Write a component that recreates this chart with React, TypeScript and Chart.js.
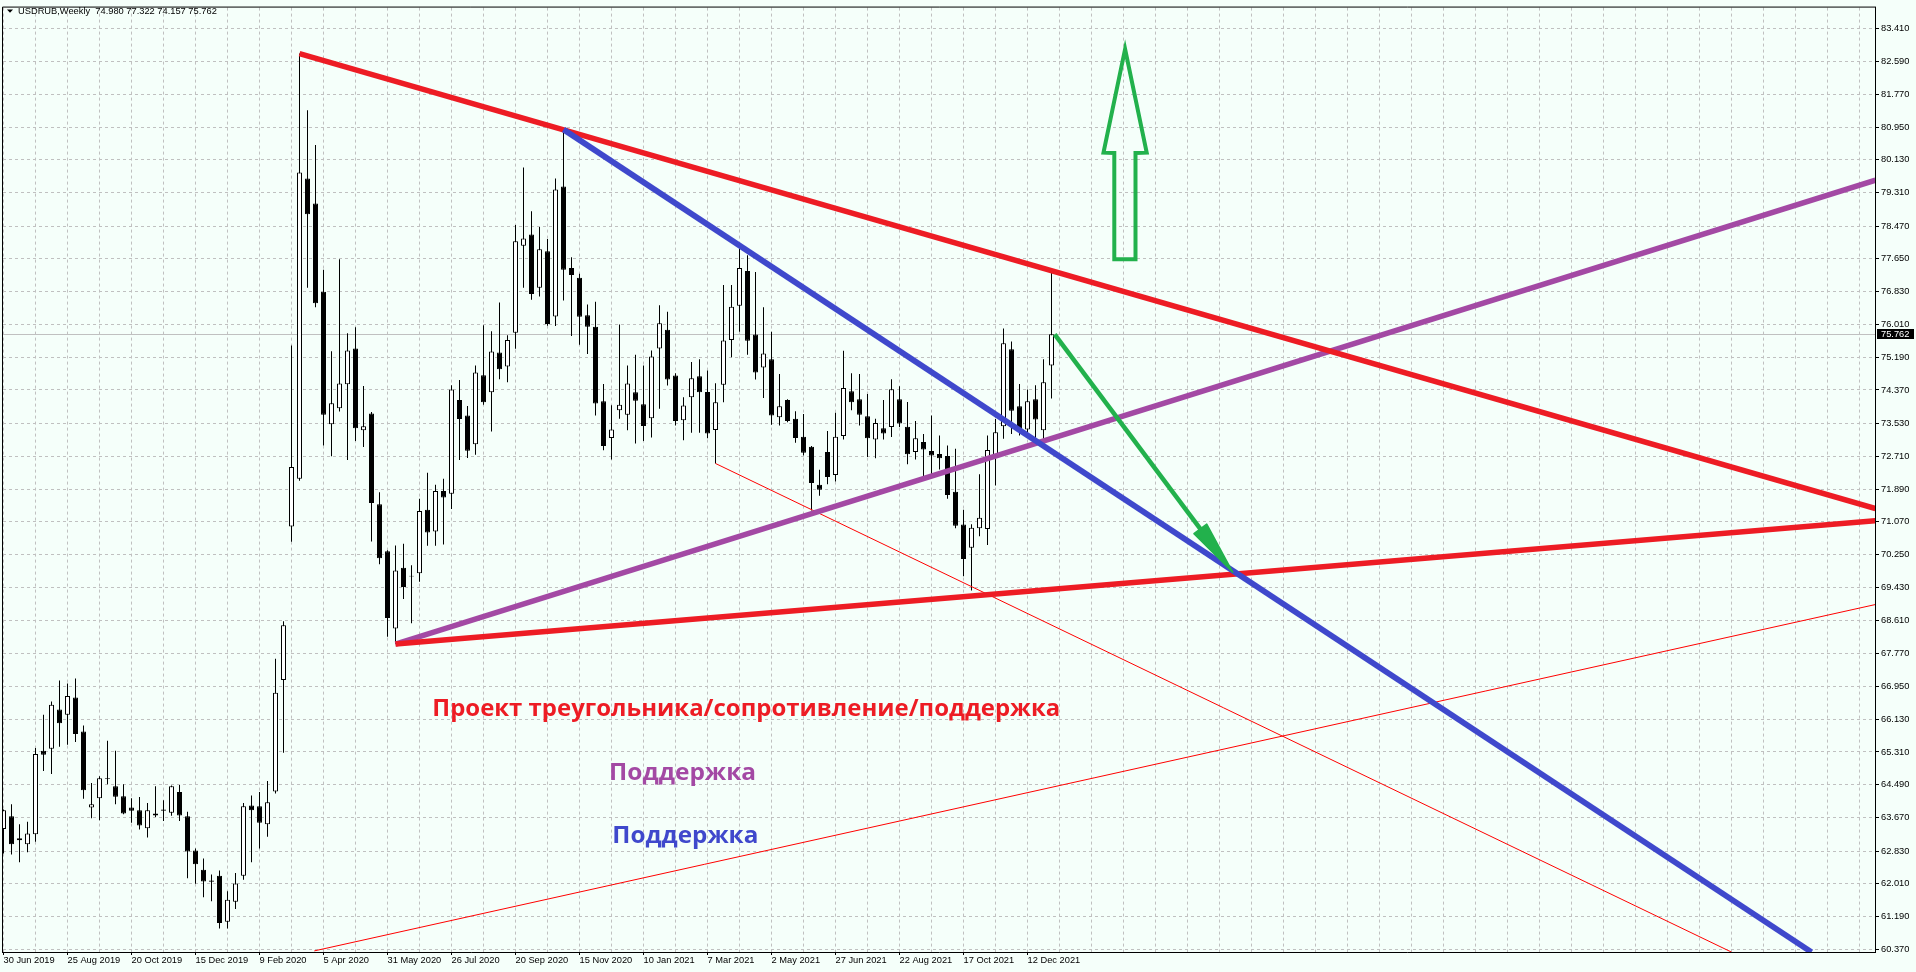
import React, { useEffect, useRef } from "react";
import { Chart, registerables } from "chart.js";

Chart.register(...registerables);

// ---------------- DATA ----------------
const symbolName = "USDRUB,Weekly";

// weekly candles, index 0 = week of 30 Jun 2019
const opens = [
  63.38, 63.70, 63.15, 63.00, 63.25, 65.34, 65.39, 66.37, 66.24, 66.67,
  65.82, 63.92, 64.15, 64.66, 64.45, 64.20, 63.92, 63.85, 63.40, 63.77,
  63.84, 63.79, 64.31, 63.70, 62.84, 62.36, 62.09, 62.21, 61.06, 61.56,
  62.21, 63.97, 63.95, 63.50, 64.32, 67.11, 70.95, 72.15, 79.66, 79.04,
  76.83, 73.51, 73.91, 74.51, 75.41, 73.36, 73.78, 71.51, 70.33, 68.40,
  69.92, 69.72, 69.78, 71.37, 70.83, 71.84, 71.77, 74.12, 73.73, 73.01,
  74.74, 74.31, 75.31, 74.96, 75.80, 77.98, 78.26, 76.93, 77.84, 76.21,
  79.46, 77.42, 77.18, 76.24, 75.95, 74.09, 73.17, 73.86, 73.75, 74.31,
  74.01, 73.66, 75.41, 75.88, 74.73, 73.61, 74.19, 74.71, 74.32, 73.37,
  74.50, 75.62, 76.48, 77.35, 75.76, 74.93, 75.14, 73.69, 74.12, 73.65,
  73.20, 72.95, 72.00, 72.82, 72.24, 73.22, 74.34, 74.14, 73.71, 73.13,
  73.41, 73.44, 74.14, 73.45, 72.82, 73.07, 72.84, 72.77, 72.72, 71.82,
  71.00, 70.42, 70.91, 70.89, 72.73, 73.46, 75.39, 73.96, 73.38, 74.14,
  73.36, 74.980,
];
const highs = [
  63.87, 64.00, 63.50, 63.56, 65.41, 66.24, 66.57, 67.10, 67.02, 67.15,
  65.97, 64.53, 64.70, 65.59, 65.34, 64.50, 64.15, 64.18, 64.03, 64.45,
  64.10, 64.47, 64.48, 63.81, 62.89, 62.64, 62.24, 62.34, 61.82, 62.28,
  64.03, 64.22, 64.31, 64.58, 67.64, 68.58, 75.48, 82.79, 81.37, 80.50,
  77.38, 75.34, 77.64, 75.79, 75.94, 74.47, 73.82, 71.81, 70.36, 70.48,
  70.52, 69.98, 71.65, 72.30, 72.00, 72.15, 74.49, 74.62, 73.97, 74.98,
  75.99, 75.84, 76.56, 75.74, 78.50, 79.94, 78.84, 78.45, 78.15, 79.66,
  80.89, 77.69, 77.28, 76.51, 76.58, 74.52, 73.99, 76.01, 74.98, 75.25,
  74.98, 75.36, 76.49, 76.33, 74.79, 74.19, 75.07, 75.14, 74.86, 74.54,
  77.00, 77.00, 77.91, 77.74, 77.32, 76.44, 75.83, 74.77, 74.14, 73.84,
  73.77, 72.97, 72.37, 73.34, 73.80, 75.35, 74.79, 74.77, 74.27, 73.65,
  74.12, 74.64, 74.46, 74.07, 73.59, 73.27, 73.73, 73.23, 72.98, 72.90,
  71.37, 71.01, 72.26, 73.23, 73.64, 75.91, 75.58, 74.52, 74.38, 74.49,
  75.14, 77.322,
];
const lows = [
  62.77, 62.74, 62.55, 62.80, 63.06, 64.83, 64.76, 65.44, 65.49, 65.56,
  64.14, 63.65, 63.60, 64.50, 64.00, 63.75, 63.54, 63.37, 63.17, 63.68,
  63.58, 63.71, 63.58, 62.15, 62.01, 61.67, 61.57, 60.89, 60.89, 61.38,
  62.11, 62.55, 62.89, 63.19, 64.27, 65.29, 70.57, 72.10, 76.93, 76.44,
  72.98, 72.71, 73.83, 72.62, 73.09, 72.94, 70.58, 70.01, 68.19, 68.01,
  69.14, 68.53, 69.57, 70.47, 70.47, 70.50, 71.39, 72.62, 72.67, 72.75,
  74.00, 73.33, 74.64, 74.56, 75.40, 76.93, 76.63, 76.71, 75.98, 75.97,
  76.61, 75.72, 75.50, 75.27, 73.73, 72.86, 72.63, 73.65, 73.36, 73.03,
  73.09, 73.18, 73.90, 74.48, 73.48, 73.11, 73.30, 73.30, 73.16, 72.53,
  74.06, 75.19, 75.83, 75.25, 74.63, 74.17, 73.50, 73.48, 73.56, 73.05,
  72.73, 71.35, 71.72, 72.01, 72.08, 73.13, 73.86, 73.48, 72.69, 72.66,
  73.13, 73.19, 73.44, 72.51, 72.63, 72.19, 72.22, 72.38, 71.65, 70.91,
  69.71, 69.35, 70.71, 70.49, 71.98, 73.15, 73.27, 73.23, 73.23, 73.13,
  73.13, 74.157,
];
const closes = [
  63.85, 63.00, 63.10, 63.27, 65.26, 65.24, 66.49, 66.03, 66.71, 65.76,
  64.35, 64.00, 64.65, 64.64, 64.19, 63.77, 63.84, 63.47, 63.85, 63.72,
  63.87, 64.45, 63.72, 62.82, 62.50, 62.07, 62.06, 61.03, 61.61, 62.02,
  63.95, 63.85, 63.54, 64.05, 66.79, 68.48, 72.44, 79.81, 78.77, 76.54,
  73.75, 74.04, 74.53, 75.36, 73.41, 73.46, 71.54, 70.16, 68.66, 69.85,
  69.44, 69.70, 71.34, 70.80, 71.84, 71.68, 74.38, 73.64, 72.85, 74.81,
  74.06, 75.33, 74.89, 75.62, 78.09, 78.16, 76.77, 77.89, 76.02, 79.39,
  77.38, 77.25, 76.20, 75.95, 74.03, 72.97, 73.38, 74.00, 74.53, 74.10,
  73.47, 75.21, 76.04, 74.63, 73.59, 73.98, 74.66, 74.31, 73.28, 74.06,
  75.61, 76.45, 77.42, 75.60, 74.81, 75.28, 73.73, 73.96, 73.59, 73.17,
  72.80, 72.04, 71.87, 72.19, 73.20, 74.42, 74.06, 73.75, 73.16, 73.54,
  73.28, 74.39, 73.53, 72.76, 73.16, 72.88, 72.73, 72.66, 71.74, 70.97,
  70.14, 70.92, 71.17, 72.87, 73.31, 75.54, 73.85, 73.38, 74.09, 73.63,
  74.56, 75.762,
];

// date labels every 8 weeks starting at week 0
const xTickLabels = [
  "30 Jun 2019", "25 Aug 2019", "20 Oct 2019", "15 Dec 2019", "9 Feb 2020",
  "5 Apr 2020", "31 May 2020", "26 Jul 2020", "20 Sep 2020", "15 Nov 2020",
  "10 Jan 2021", "7 Mar 2021", "2 May 2021", "27 Jun 2021", "22 Aug 2021",
  "17 Oct 2021", "12 Dec 2021",
];
const xLabelEveryWeeks = 8;
const xGridEveryWeeks = 4;

const yTickLabels = [
  "83.410", "82.590", "81.770", "80.950", "80.130", "79.310", "78.470", "77.650",
  "76.830", "76.010", "75.190", "74.370", "73.530", "72.710", "71.890", "71.070",
  "70.250", "69.430", "68.610", "67.770", "66.950", "66.130", "65.310", "64.490",
  "63.670", "62.830", "62.010", "61.190", "60.370",
];

// drawn objects: [week index, price]
const resistanceLine = [[37, 82.79], [234, 71.40]];
const triangleBaseLine = [[49, 68.01], [234, 71.10]];
const purpleSupportLine = [[49, 68.01], [234, 79.62]];
const blueSupportLine = [[70, 80.89], [226, 60.30]];
const thinChannelLineA = [[89, 72.53], [216, 60.30]];
const thinChannelLineB = [[38.85, 60.33], [234, 69.0]];
const downArrowPath = [[131.4, 75.76], [153.65, 69.81]];
const upArrowOutline = [
  [140.2, 82.90], [137.5, 80.31], [138.85, 80.30], [138.85, 77.64],
  [141.5, 77.64], [141.5, 80.30], [142.9, 80.31],
];
const annotationTexts = [
  "Проект треугольника/сопротивление/поддержка",
  "Поддержка",
  "Поддержка",
];
const annotationAnchors = [[53.6, 66.22], [75.7, 64.60], [76.1, 63.02]];

// ---------------- STYLE ----------------
const BG = "#F5FFFA";
const GRID = "#C0C0C0";
const RED = "#ED1C24";
const PURPLE = "#A349A4";
const BLUE = "#3F48CC";
const GREEN = "#22B14C";
const THIN_RED = "#FF0000";
const AXIS_FONT_FAMILY = "'Liberation Sans', Arial, sans-serif";
const AXIS_FONT_SIZE = 9.3;
const TEXT_COLORS = [RED, PURPLE, BLUE];
const TEXT_WIDTHS = [628, 147, 146];

function xLabelFor(value: number): string {
  const k = Math.round(value);
  if (Math.abs(value - k) > 1e-6) return "";
  if (k % xLabelEveryWeeks !== 0) return "";
  const i = k / xLabelEveryWeeks;
  return i >= 0 && i < xTickLabels.length ? xTickLabels[i] : "";
}

export default function App() {
  const canvasRef = useRef<HTMLCanvasElement | null>(null);

  useEffect(() => {
    const canvas = canvasRef.current;
    if (!canvas) return;
    const last = closes.length - 1;
    const idx = opens.map((_, i) => i);
    const bodyColors = opens.map((o, i) => (closes[i] >= o ? "#FFFFFF" : "#000000"));
    const toXY = (pts: number[][]) => pts.map(([x, y]) => ({ x, y }));
    const lineDs = (pts: number[][], color: string, width: number, order: number) => ({
      type: "line",
      data: toXY(pts),
      borderColor: color,
      backgroundColor: color,
      borderWidth: width,
      pointRadius: 0,
      pointHoverRadius: 0,
      tension: 0,
      fill: false,
      order,
      borderCapStyle: "butt",
      clip: 0,
    });

    const bgPlugin = {
      id: "bg",
      beforeDraw(chart: any) {
        const { ctx, width, height } = chart;
        ctx.save();
        ctx.fillStyle = BG;
        ctx.fillRect(0, 0, width, height);
        ctx.restore();
      },
    };

    const priceLinePlugin = {
      id: "priceLine",
      beforeDatasetsDraw(chart: any) {
        const { ctx, chartArea, scales } = chart;
        const py = Math.floor(scales.y.getPixelForValue(closes[last])) + 0.5;
        ctx.save();
        ctx.strokeStyle = GRID;
        ctx.lineWidth = 1;
        ctx.beginPath();
        ctx.moveTo(chartArea.left, py);
        ctx.lineTo(chartArea.right, py);
        ctx.stroke();
        ctx.restore();
      },
    };

    const annotationPlugin = {
      id: "annotations",
      afterDatasetsDraw(chart: any) {
        const { ctx, chartArea, scales } = chart;
        const px = (p: number[]) => [scales.x.getPixelForValue(p[0]), scales.y.getPixelForValue(p[1])];
        ctx.save();
        ctx.beginPath();
        ctx.rect(chartArea.left, chartArea.top, chartArea.right - chartArea.left, chartArea.bottom - chartArea.top);
        ctx.clip();

        // hollow up arrow
        ctx.beginPath();
        upArrowOutline.forEach((p, i) => {
          const [a, b] = px(p);
          if (i === 0) ctx.moveTo(a, b);
          else ctx.lineTo(a, b);
        });
        ctx.closePath();
        ctx.strokeStyle = GREEN;
        ctx.lineWidth = 4;
        ctx.lineJoin = "miter";
        ctx.stroke();

        // down arrow (shaft + head)
        const [sx, sy] = px(downArrowPath[0]);
        const [tx, ty] = px(downArrowPath[1]);
        const len = Math.hypot(tx - sx, ty - sy);
        const ux = (tx - sx) / len;
        const uy = (ty - sy) / len;
        const headLen = 54;
        const headHalf = 8;
        const bx = tx - ux * headLen;
        const by = ty - uy * headLen;
        ctx.beginPath();
        ctx.moveTo(sx, sy);
        ctx.lineTo(bx + ux * 4, by + uy * 4);
        ctx.lineWidth = 4.5;
        ctx.lineCap = "butt";
        ctx.stroke();
        ctx.beginPath();
        ctx.moveTo(tx, ty);
        ctx.lineTo(bx - uy * headHalf, by + ux * headHalf);
        ctx.lineTo(bx + uy * headHalf, by - ux * headHalf);
        ctx.closePath();
        ctx.fillStyle = GREEN;
        ctx.fill();
        ctx.lineWidth = 1.5;
        ctx.lineJoin = "round";
        ctx.stroke();

        // texts
        ctx.font = "bold 23px 'Open Sans', 'Noto Sans', sans-serif";
        ctx.textAlign = "left";
        ctx.textBaseline = "alphabetic";
        annotationTexts.forEach((t, i) => {
          const [ax, ay] = px(annotationAnchors[i]);
          const w = ctx.measureText(t).width;
          ctx.save();
          ctx.translate(ax, ay);
          ctx.scale(TEXT_WIDTHS[i] / w, 1);
          ctx.fillStyle = TEXT_COLORS[i];
          ctx.fillText(t, 0, 0);
          ctx.restore();
        });
        ctx.restore();
      },
    };

    const framePlugin = {
      id: "frame",
      afterDraw(chart: any) {
        const { ctx, chartArea, scales } = chart;
        ctx.save();
        ctx.strokeStyle = "#000";
        ctx.lineWidth = 1;
        ctx.beginPath();
        ctx.moveTo(chartArea.left - 0.5, chartArea.bottom + 1);
        ctx.lineTo(chartArea.left - 0.5, chartArea.top - 0.5);
        ctx.lineTo(chartArea.right + 1, chartArea.top - 0.5);
        ctx.stroke();

        // title
        ctx.fillStyle = "#000";
        ctx.beginPath();
        ctx.moveTo(7, 9.5);
        ctx.lineTo(13, 9.5);
        ctx.lineTo(10, 12.8);
        ctx.closePath();
        ctx.fill();
        ctx.font = `${AXIS_FONT_SIZE}px ${AXIS_FONT_FAMILY}`;
        ctx.textAlign = "left";
        ctx.textBaseline = "alphabetic";
        const title = `${symbolName}  ${opens[last].toFixed(3)} ${highs[last].toFixed(3)} ${lows[last].toFixed(3)} ${closes[last].toFixed(3)}`;
        ctx.fillText(title, 18, 14);

        // current price box
        const py = scales.y.getPixelForValue(closes[last]);
        ctx.fillStyle = "#000";
        ctx.fillRect(chartArea.right + 2, Math.round(py) - 5, 37, 10);
        ctx.fillStyle = "#FFF";
        ctx.textBaseline = "middle";
        ctx.fillText(closes[last].toFixed(3), chartArea.right + 6, Math.round(py) + 0.5);
        ctx.restore();
      },
    };

    const tickFont = { family: AXIS_FONT_FAMILY, size: AXIS_FONT_SIZE };

    const chart = new Chart(canvas, {
      type: "bar",
      data: {
        datasets: [
          {
            type: "bar",
            data: idx.map((i) => ({ x: i, y: [lows[i], highs[i]] })),
            backgroundColor: "#000000",
            borderWidth: 0,
            barThickness: 1,
            grouped: false,
            inflateAmount: 0,
            order: 30,
            clip: 0,
          },
          {
            type: "bar",
            data: idx.map((i) => ({ x: i, y: [opens[i], closes[i]] })),
            backgroundColor: bodyColors,
            borderColor: "#000000",
            borderWidth: 1,
            borderSkipped: false,
            barThickness: 5,
            grouped: false,
            inflateAmount: 0,
            order: 29,
            clip: 0,
          },
          lineDs(thinChannelLineA, THIN_RED, 1, 20),
          lineDs(thinChannelLineB, THIN_RED, 1, 19),
          lineDs(purpleSupportLine, PURPLE, 5.5, 18),
          lineDs(triangleBaseLine, RED, 5.5, 17),
          lineDs(resistanceLine, RED, 5.5, 16),
          lineDs(blueSupportLine, BLUE, 5.8, 15),
        ] as any,
      },
      options: {
        animation: false,
        responsive: false,
        events: [],
        layout: { padding: { left: 3, top: 3, right: 0, bottom: 0 } },
        plugins: {
          legend: { display: false },
          tooltip: { enabled: false },
        },
        scales: {
          x: {
            type: "linear",
            position: "bottom",
            min: -0.0625,
            max: 233.9375,
            offset: false,
            afterFit: (s: any) => {
              s.height = 20;
            },
            afterBuildTicks: (s: any) => {
              const t = [];
              for (let k = 0; k <= s.max; k += xGridEveryWeeks) t.push({ value: k });
              s.ticks = t;
            },
            grid: {
              offset: false,
              color: GRID,
              lineWidth: 1,
              drawTicks: true,
              tickLength: 3,
              tickColor: (c: any) => (c.tick && xLabelFor(c.tick.value) !== "" ? "#000" : "rgba(0,0,0,0)"),
              tickBorderDash: [],
            },
            border: { display: true, color: "#000", width: 1, dash: [3, 3] },
            ticks: {
              autoSkip: false,
              maxRotation: 0,
              minRotation: 0,
              align: "start",
              padding: 0,
              color: "#000",
              font: tickFont,
              callback: (v: any) => xLabelFor(Number(v)),
            },
          },
          y: {
            type: "linear",
            position: "right",
            min: 60.3026,
            max: 83.9406,
            beginAtZero: false,
            afterFit: (s: any) => {
              s.width = 41;
            },
            afterBuildTicks: (s: any) => {
              s.ticks = yTickLabels
                .map((l) => ({ value: parseFloat(l), text: l }))
                .sort((a, b) => a.value - b.value);
            },
            grid: {
              color: GRID,
              lineWidth: 1,
              drawTicks: true,
              tickLength: 4,
              tickColor: "#000",
              tickBorderDash: [],
            },
            border: { display: true, color: "#000", width: 1, dash: [3, 3] },
            ticks: {
              autoSkip: false,
              padding: 2,
              color: "#000",
              font: tickFont,
              callback: (v: any, i: number, ticks: any[]) => (ticks[i] && ticks[i].text) || "",
            },
          },
        },
      } as any,
      plugins: [bgPlugin, priceLinePlugin, annotationPlugin, framePlugin],
    });

    return () => chart.destroy();
  }, []);

  return (
    <div style={{ position: "absolute", left: 0, top: 0, width: 1916, height: 972 }}>
      <canvas ref={canvasRef} width={1916} height={972} style={{ display: "block" }} />
    </div>
  );
}
